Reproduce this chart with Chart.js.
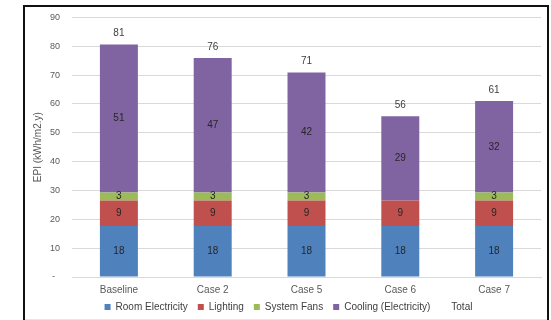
<!DOCTYPE html>
<html>
<head>
<meta charset="utf-8">
<script src="https://cdn.jsdelivr.net/npm/chart.js@4/dist/chart.umd.min.js"></script>
<style>
  html, body { margin: 0; padding: 0; background: #ffffff; }
  #wrap { width: 551px; height: 320px; position: relative; }
</style>
</head>
<body>
<div id="wrap"><canvas id="c" width="551" height="320"></canvas></div>
<script>
// Energy performance index breakdown per case (kWh/m2.y)
const categories = ['Baseline', 'Case 2', 'Case 5', 'Case 6', 'Case 7'];
const roomElectricity = [17.7, 17.7, 17.7, 17.7, 17.7];
const lighting = [8.8, 8.8, 8.8, 8.8, 8.8];
const systemFans = [2.8, 2.8, 2.8, 0, 2.8];
const cooling = [51.3, 46.6, 41.6, 29.2, 31.7];
const totals = [80.6, 75.9, 70.9, 55.7, 61.0];
const yTicks = [0, 10, 20, 30, 40, 50, 60, 70, 80, 90];

const FONT = "'Liberation Sans', Arial, sans-serif";

// outer frame of the figure, plus a compact legend row
const framePlugin = {
  id: 'frame',
  beforeUpdate(chart) {
    const lg = chart.legend;
    if (lg && !lg._compactFit) {
      const fit = lg.fit.bind(lg);
      lg.fit = function () { fit(); if (this.isHorizontal()) this.height = 24; };
      lg._compactFit = true;
    }
  },
  afterLayout(chart) {
    const lg = chart.legend;
    if (lg) { lg.top -= 4; lg.bottom -= 4; }
  },
  beforeDraw(chart) {
    const ctx = chart.ctx;
    ctx.save();
    ctx.fillStyle = '#ffffff';
    ctx.fillRect(0, 0, chart.width, chart.height);
    ctx.strokeStyle = '#e6e6e6';
    ctx.lineWidth = 1;
    ctx.beginPath();
    ctx.moveTo(25, 319.5);
    ctx.lineTo(547, 319.5);
    ctx.stroke();
    ctx.strokeStyle = '#111111';
    ctx.lineWidth = 2;
    ctx.strokeRect(24, 6, 524, 330);
    ctx.restore();
  }
};

// value labels: centred in each segment, totals above the stack
const labelPlugin = {
  id: 'valueLabels',
  afterDatasetsDraw(chart) {
    const ctx = chart.ctx;
    ctx.save();
    ctx.font = '10px ' + FONT;
    ctx.textAlign = 'center';
    ctx.textBaseline = 'middle';
    chart.data.datasets.forEach((ds, di) => {
      const meta = chart.getDatasetMeta(di);
      if (meta.hidden) return;
      meta.data.forEach((el, i) => {
        const v = ds.data[i];
        if (!v) return;
        if (ds.type === 'line') {
          ctx.fillStyle = '#404040';
          ctx.fillText(String(Math.round(v)), el.x, el.y - 11);
        } else {
          ctx.fillStyle = '#262626';
          ctx.fillText(String(Math.round(v)), el.x, (el.y + el.base) / 2);
        }
      });
    });
    ctx.restore();
  }
};

new Chart(document.getElementById('c'), {
  type: 'bar',
  data: {
    labels: categories,
    datasets: [
      { label: 'Room Electricity', data: roomElectricity, backgroundColor: '#4f81bd', stack: 's' },
      { label: 'Lighting', data: lighting, backgroundColor: '#c0504d', stack: 's' },
      { label: 'System Fans', data: systemFans, backgroundColor: '#9bbb59', stack: 's' },
      { label: 'Cooling (Electricity)', data: cooling, backgroundColor: '#8064a2', stack: 's' },
      { label: 'Total', type: 'line', data: totals, stack: 'total', showLine: false,
        pointRadius: 0, pointHoverRadius: 0, borderColor: 'rgba(0,0,0,0)',
        backgroundColor: 'rgba(0,0,0,0)', borderWidth: 0 }
    ]
  },
  options: {
    responsive: false,
    animation: false,
    layout: { padding: { left: 36, right: 10, top: 16, bottom: 0 } },
    datasets: { bar: { categoryPercentage: 1, barPercentage: 0.405 } },
    plugins: {
      legend: {
        position: 'bottom',
        labels: {
          boxWidth: 6, boxHeight: 6, padding: 10,
          color: '#404040', font: { family: FONT, size: 10 }
        }
      },
      tooltip: { enabled: false }
    },
    scales: {
      x: {
        stacked: true,
        grid: { display: false, drawTicks: false },
        border: { display: true, color: '#d9d9d9' },
        afterFit(scale) { scale.height = 19; },
        ticks: { color: '#595959', font: { family: FONT, size: 10 }, padding: 7, maxRotation: 0 }
      },
      y: {
        stacked: true,
        min: 0, max: 90,
        afterBuildTicks(scale) { scale.ticks = yTicks.map(v => ({ value: v })); },
        afterFit(scale) { scale.width = 36; },
        grid: { color: '#d9d9d9', drawTicks: false },
        border: { display: false },
        ticks: {
          color: '#595959', font: { family: FONT, size: 9 }, padding: 12,
          callback: v => v === 0 ? '-  ' : String(v)
        },
        title: {
          display: true, text: 'EPI (kWh/m2.y)', color: '#595959',
          font: { family: FONT, size: 10 }, padding: { top: -4, bottom: 0 }
        }
      }
    }
  },
  plugins: [framePlugin, labelPlugin]
});
</script>
</body>
</html>
